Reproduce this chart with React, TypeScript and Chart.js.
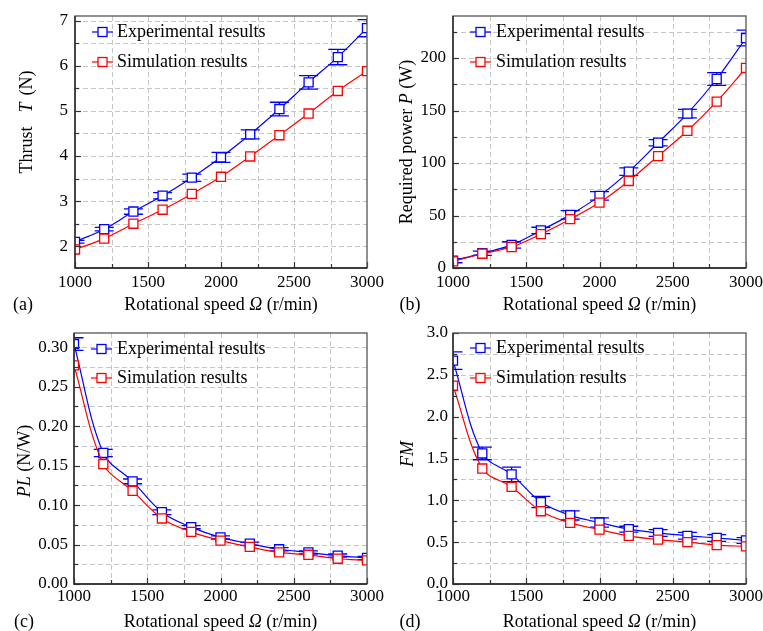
import React, { useEffect, useRef } from "react";
import { Chart, registerables } from "chart.js";

Chart.register(...registerables);

const FONT = "'Liberation Serif', 'Times New Roman', serif";
const BLUE = "#0000ff";
const RED = "#ff0000";

// ---------- data ----------
const speeds = [1000, 1200, 1400, 1600, 1800, 2000, 2200, 2400, 2600, 2800, 3000];

const thrustExp = [2.1, 2.38, 2.77, 3.12, 3.52, 3.97, 4.48, 5.04, 5.63, 6.19, 6.83];
const thrustExpErr = [0.03, 0.04, 0.06, 0.07, 0.08, 0.11, 0.1, 0.15, 0.15, 0.17, 0.19];
const thrustSim = [1.93, 2.17, 2.5, 2.81, 3.16, 3.54, 3.99, 4.46, 4.94, 5.44, 5.88];

const powerExp = [7, 14, 22, 35.8, 50.6, 68.7, 91.8, 119.3, 147, 180, 219];
const powerExpErr = [2, 2, 3, 3, 4, 4, 3.5, 3, 4, 6, 7.5];
const powerSim = [6.3, 13.6, 20, 32.3, 46.5, 62.3, 82.9, 106.6, 130.7, 158.5, 190.5];

const plExp = [0.304, 0.166, 0.13, 0.091, 0.072, 0.059, 0.051, 0.044, 0.04, 0.036, 0.033];
const plExpErr = [0.008, 0.0046, 0.003, 0.003, 0.002, 0.002, 0.002, 0.002, 0.002, 0.002, 0.002];
const plSim = [0.277, 0.152, 0.118, 0.083, 0.066, 0.055, 0.047, 0.04, 0.037, 0.032, 0.03];

const fmExp = [2.67, 1.56, 1.31, 0.98, 0.82, 0.735, 0.655, 0.61, 0.576, 0.55, 0.52];
const fmExpErr = [0.105, 0.075, 0.087, 0.068, 0.055, 0.055, 0.035, 0.04, 0.04, 0.04, 0.035];
const fmSim = [2.37, 1.38, 1.16, 0.87, 0.73, 0.65, 0.576, 0.53, 0.5, 0.465, 0.45];

// ---------- ticks ----------
const xTicks = [1000, 1250, 1500, 1750, 2000, 2250, 2500, 2750, 3000];
const xTickLabels = [1000, 1500, 2000, 2500, 3000];
const thrustTicks = [2, 2.5, 3, 3.5, 4, 4.5, 5, 5.5, 6, 6.5, 7];
const thrustTickLabels = [2, 3, 4, 5, 6, 7];
const powerTicks = [0, 25, 50, 75, 100, 125, 150, 175, 200, 225];
const powerTickLabels = [0, 50, 100, 150, 200];
const plTicks = [0, 0.025, 0.05, 0.075, 0.1, 0.125, 0.15, 0.175, 0.2, 0.225, 0.25, 0.275, 0.3];
const plTickLabels = [0, 0.05, 0.1, 0.15, 0.2, 0.25, 0.3];
const fmTicks = [0, 0.25, 0.5, 0.75, 1, 1.25, 1.5, 1.75, 2, 2.25, 2.5, 2.75, 3];
const fmTickLabels = [0, 0.5, 1, 1.5, 2, 2.5, 3];

const legendNames = ["Experimental results", "Simulation results"];

type Seg = { t: string; i?: boolean; gap?: number };

interface Panel {
  key: string;
  left: number;
  top: number;
  width: number;
  height: number;
  area: { l: number; r: number; t: number; b: number };
  yMin: number;
  yMax: number;
  yTicks: number[];
  yLabels: number[];
  yDec: number;
  yPad: number;
  xPad: number;
  exp: number[];
  err: number[];
  sim: number[];
  yTitle: Seg[];
  yTitlePos: [number, number];
  legend: { lx: number; tx: number; y1: number; y2: number };
  label: string;
  labelPos: [number, number];
  xTitleY: number;
}

const xTitle: Seg[] = [{ t: "Rotational speed " }, { t: "Ω", i: true }, { t: " (r/min)" }];

const panels: Panel[] = [
  {
    key: "a", left: 0, top: 0, width: 390, height: 315,
    area: { l: 75, r: 367, t: 16, b: 268 },
    yMin: 1.52, yMax: 7.1, yTicks: thrustTicks, yLabels: thrustTickLabels, yDec: 0, yPad: 7, xPad: 4,
    exp: thrustExp, err: thrustExpErr, sim: thrustSim,
    yTitle: [{ t: "Thrust" }, { t: "T", i: true, gap: 14 }, { t: "(N)", gap: 7 }],
    yTitlePos: [27, 122],
    legend: { lx: 92, tx: 117, y1: 32, y2: 62 },
    label: "(a)", labelPos: [23, 305], xTitleY: 305,
  },
  {
    key: "b", left: 373, top: 0, width: 390, height: 315,
    area: { l: 80, r: 373, t: 16, b: 268 },
    yMin: 0, yMax: 240, yTicks: powerTicks, yLabels: powerTickLabels, yDec: 0, yPad: 7, xPad: 4,
    exp: powerExp, err: powerExpErr, sim: powerSim,
    yTitle: [{ t: "Required power " }, { t: "P", i: true }, { t: " (W)" }],
    yTitlePos: [34, 142],
    legend: { lx: 97, tx: 123, y1: 32, y2: 62 },
    label: "(b)", labelPos: [37, 305], xTitleY: 305,
  },
  {
    key: "c", left: 0, top: 315, width: 390, height: 316,
    area: { l: 74, r: 367, t: 18, b: 269 },
    yMin: 0, yMax: 0.318, yTicks: plTicks, yLabels: plTickLabels, yDec: 2, yPad: 6, xPad: 2,
    exp: plExp, err: plExpErr, sim: plSim,
    yTitle: [{ t: "PL", i: true }, { t: " (N/W)" }],
    yTitlePos: [25, 146],
    legend: { lx: 91, tx: 117, y1: 34, y2: 63 },
    label: "(c)", labelPos: [24, 307], xTitleY: 307,
  },
  {
    key: "d", left: 373, top: 315, width: 390, height: 316,
    area: { l: 80, r: 373, t: 18, b: 269 },
    yMin: 0, yMax: 3.0, yTicks: fmTicks, yLabels: fmTickLabels, yDec: 1, yPad: 5, xPad: 2,
    exp: fmExp, err: fmExpErr, sim: fmSim,
    yTitle: [{ t: "FM", i: true }],
    yTitlePos: [35, 139],
    legend: { lx: 97, tx: 123, y1: 33, y2: 63 },
    label: "(d)", labelPos: [37, 307], xTitleY: 307,
  },
];

const near = (v: number, list: number[]) => list.some((u) => Math.abs(u - v) < 1e-9);

function drawSegs(ctx: CanvasRenderingContext2D, segs: Seg[], size: number, cx: number, cy: number, rot: boolean) {
  ctx.save();
  ctx.translate(cx, cy);
  if (rot) ctx.rotate(-Math.PI / 2);
  let total = 0;
  const widths = segs.map((s) => {
    ctx.font = `${s.i ? "italic " : ""}${size}px ${FONT}`;
    const w = ctx.measureText(s.t).width;
    total += w + (s.gap || 0);
    return w;
  });
  let x = -total / 2;
  ctx.textBaseline = "middle";
  ctx.textAlign = "left";
  ctx.fillStyle = "#000";
  segs.forEach((s, k) => {
    x += s.gap || 0;
    ctx.font = `${s.i ? "italic " : ""}${size}px ${FONT}`;
    ctx.fillText(s.t, x, 0);
    x += widths[k];
  });
  ctx.restore();
}

function drawSquare(ctx: CanvasRenderingContext2D, x: number, y: number, color: string) {
  ctx.fillStyle = "#fff";
  ctx.strokeStyle = color;
  ctx.lineWidth = 1.3;
  ctx.fillRect(x - 4.5, y - 4.5, 9, 9);
  ctx.strokeRect(x - 4.5, y - 4.5, 9, 9);
}

function makePlugin(p: Panel) {
  return {
    id: "deco_" + p.key,
    beforeDatasetsDraw(chart: any) {
      const { ctx, chartArea: a, scales } = chart;
      const x = scales.x;
      const y = scales.y;
      ctx.save();
      ctx.strokeStyle = "#c6c6c6";
      ctx.lineWidth = 1;
      ctx.setLineDash([5, 3]);
      x.ticks.forEach((t: any) => {
        const px = Math.round(x.getPixelForValue(t.value)) + 0.5;
        if (px <= a.left + 1 || px >= a.right - 1) return;
        ctx.beginPath();
        ctx.moveTo(px, a.top);
        ctx.lineTo(px, a.bottom);
        ctx.stroke();
      });
      y.ticks.forEach((t: any) => {
        const py = Math.round(y.getPixelForValue(t.value)) + 0.5;
        if (py <= a.top + 1 || py >= a.bottom - 1) return;
        ctx.beginPath();
        ctx.moveTo(a.left, py);
        ctx.lineTo(a.right, py);
        ctx.stroke();
      });
      ctx.setLineDash([]);
      // error bars
      ctx.beginPath();
      ctx.rect(a.left, a.top, a.right - a.left, a.bottom - a.top);
      ctx.clip();
      ctx.strokeStyle = BLUE;
      ctx.lineWidth = 1.3;
      p.exp.forEach((v, k) => {
        const px = x.getPixelForValue(speeds[k]);
        const y1 = y.getPixelForValue(v - p.err[k]);
        const y2 = y.getPixelForValue(v + p.err[k]);
        ctx.beginPath();
        ctx.moveTo(px, y1);
        ctx.lineTo(px, y2);
        ctx.moveTo(px - 9.5, y1);
        ctx.lineTo(px + 9.5, y1);
        ctx.moveTo(px - 9.5, y2);
        ctx.lineTo(px + 9.5, y2);
        ctx.stroke();
      });
      ctx.restore();
    },
    afterDraw(chart: any) {
      const { ctx, chartArea: a, scales } = chart;
      const x = scales.x;
      const y = scales.y;
      ctx.save();
      // inward ticks
      ctx.strokeStyle = "#333";
      ctx.lineWidth = 1.2;
      x.ticks.forEach((t: any) => {
        const px = Math.round(x.getPixelForValue(t.value)) + 0.5;
        const len = near(t.value, xTickLabels) ? 6 : 4;
        ctx.beginPath();
        ctx.moveTo(px, a.bottom);
        ctx.lineTo(px, a.bottom - len);
        ctx.stroke();
      });
      y.ticks.forEach((t: any) => {
        const py = Math.round(y.getPixelForValue(t.value)) + 0.5;
        const len = near(t.value, p.yLabels) ? 6 : 4;
        ctx.beginPath();
        ctx.moveTo(a.left, py);
        ctx.lineTo(a.left + len, py);
        ctx.stroke();
      });
      // frame
      ctx.lineWidth = 1.3;
      ctx.strokeStyle = "#555";
      ctx.strokeRect(a.left, a.top, a.right - a.left, a.bottom - a.top);
      ctx.strokeStyle = "#222";
      ctx.beginPath();
      ctx.moveTo(a.left, a.top);
      ctx.lineTo(a.left, a.bottom);
      ctx.lineTo(a.right, a.bottom);
      ctx.stroke();
      // legend
      const entries: [string, string, number][] = [
        [legendNames[0], BLUE, p.legend.y1],
        [legendNames[1], RED, p.legend.y2],
      ];
      entries.forEach(([name, color, ly]) => {
        ctx.strokeStyle = color;
        ctx.lineWidth = 1.2;
        ctx.beginPath();
        ctx.moveTo(p.legend.lx, ly);
        ctx.lineTo(p.legend.lx + 21, ly);
        ctx.stroke();
        drawSquare(ctx, p.legend.lx + 10.5, ly, color);
        ctx.font = `18px ${FONT}`;
        ctx.fillStyle = "#000";
        ctx.textBaseline = "middle";
        ctx.textAlign = "left";
        ctx.fillText(name, p.legend.tx, ly);
      });
      ctx.restore();
      // titles
      drawSegs(ctx, xTitle, 18, (a.left + a.right) / 2, p.xTitleY, false);
      drawSegs(ctx, p.yTitle, 18, p.yTitlePos[0], p.yTitlePos[1], true);
      drawSegs(ctx, [{ t: p.label }], 18, p.labelPos[0], p.labelPos[1], false);
    },
  };
}

function PanelChart({ p }: { p: Panel }) {
  const ref = useRef<HTMLCanvasElement | null>(null);
  useEffect(() => {
    if (!ref.current) return;
    const expPts = speeds.map((s, k) => ({ x: s, y: p.exp[k] }));
    const simPts = speeds.map((s, k) => ({ x: s, y: p.sim[k] }));
    const common = {
      showLine: true,
      borderWidth: 1.2,
      pointStyle: "rect",
      pointRadius: 6.4,
      pointHoverRadius: 6.4,
      pointBorderWidth: 1.3,
      pointBackgroundColor: "#ffffff",
      tension: 0.35,
      fill: false,
      clip: 0,
    };
    const chart = new Chart(ref.current, {
      type: "line",
      data: {
        datasets: [
          { ...common, label: legendNames[0], data: expPts, borderColor: BLUE, pointBorderColor: BLUE, order: 2 },
          { ...common, label: legendNames[1], data: simPts, borderColor: RED, pointBorderColor: RED, order: 1 },
        ] as any,
      },
      options: {
        responsive: false,
        animation: false,
        events: [],
        layout: {
          padding: { left: 0, top: p.area.t, right: p.width - p.area.r, bottom: 0 },
        },
        plugins: { legend: { display: false }, tooltip: { enabled: false }, title: { display: false } },
        scales: {
          x: {
            type: "linear",
            min: 1000,
            max: 3000,
            grid: { display: false, drawTicks: false },
            border: { display: false },
            afterBuildTicks: (s: any) => {
              s.ticks = xTicks.map((v) => ({ value: v }));
            },
            afterFit: (s: any) => {
              s.height = p.height - p.area.b;
              s.paddingLeft = 0;
              s.paddingRight = 0;
            },
            ticks: {
              autoSkip: false,
              maxRotation: 0,
              minRotation: 0,
              padding: p.xPad,
              color: "#000",
              font: { family: FONT, size: 17 },
              callback: (v: any) => (near(Number(v), xTickLabels) ? String(v) : ""),
            },
          },
          y: {
            type: "linear",
            min: p.yMin,
            max: p.yMax,
            grid: { display: false, drawTicks: false },
            border: { display: false },
            afterBuildTicks: (s: any) => {
              s.ticks = p.yTicks.map((v) => ({ value: v }));
            },
            afterFit: (s: any) => {
              s.width = p.area.l;
              s.paddingTop = 0;
              s.paddingBottom = 0;
            },
            ticks: {
              autoSkip: false,
              padding: p.yPad,
              color: "#000",
              font: { family: FONT, size: 17 },
              callback: (v: any) => (near(Number(v), p.yLabels) ? Number(v).toFixed(p.yDec) : ""),
            },
          },
        },
      } as any,
      plugins: [makePlugin(p) as any],
    });
    return () => chart.destroy();
  }, [p]);
  return (
    <canvas
      ref={ref}
      width={p.width}
      height={p.height}
      style={{ position: "absolute", left: p.left, top: p.top, width: p.width, height: p.height }}
    />
  );
}

export default function App() {
  return (
    <div style={{ position: "fixed", left: 0, top: 0, width: 763, height: 631, background: "#fff", overflow: "hidden" }}>
      {panels.map((p) => (
        <PanelChart key={p.key} p={p} />
      ))}
    </div>
  );
}
